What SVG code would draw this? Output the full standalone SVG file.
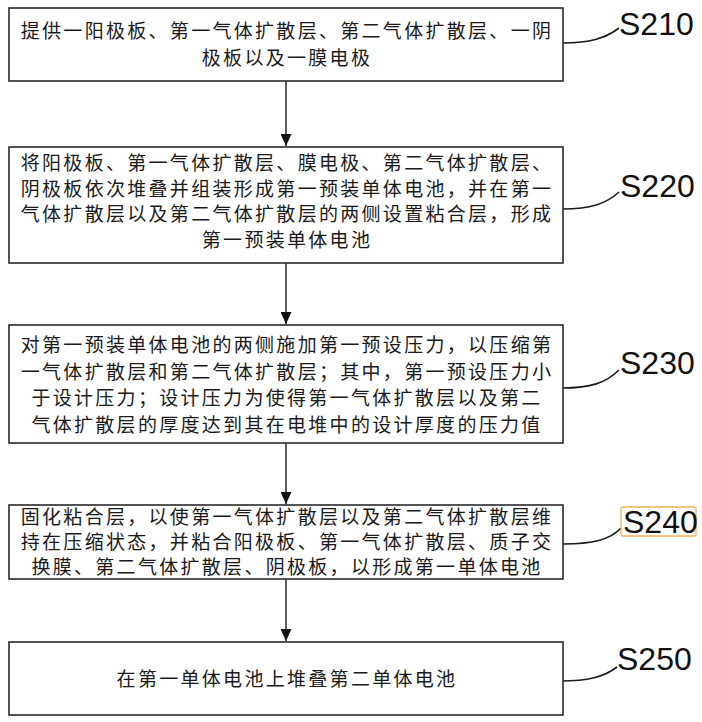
<svg xmlns="http://www.w3.org/2000/svg" width="702" height="722" viewBox="0 0 702 722">
<style>
.box{fill:#fff;stroke:#2a2a2a;stroke-width:1.6}
.t{font-family:"Noto Sans CJK SC","Noto Sans CJK JP",sans-serif;font-size:19px;letter-spacing:2.3px;fill:#1a1a1a;text-anchor:middle}
.lbl{font-family:"Liberation Sans",Arial,sans-serif;font-size:32px;fill:#111}
.lead{fill:none;stroke:#1a1a1a;stroke-width:1.6}
.conn{stroke:#1a1a1a;stroke-width:1.4;fill:none}
</style>
<defs>
<marker id="ah" markerWidth="12" markerHeight="11" refX="12" refY="5.5" orient="auto" markerUnits="userSpaceOnUse" viewBox="0 0 12 11">
<path d="M0,0 L12,5.5 L0,11 Z" fill="#111"/>
</marker>
</defs>
<rect width="702" height="722" fill="#fff"/>
<g id="connectors">
<line class="conn" x1="286" y1="81" x2="286" y2="146" marker-end="url(#ah)"/>
<line class="conn" x1="286" y1="263" x2="286" y2="324" marker-end="url(#ah)"/>
<line class="conn" x1="286" y1="443" x2="286" y2="504" marker-end="url(#ah)"/>
<line class="conn" x1="286" y1="579" x2="286" y2="641" marker-end="url(#ah)"/>
</g>
<g id="leaders">
<path class="lead" d="M563,43 C590,43 606,38 619,28"/>
<path class="lead" d="M563,209 C590,209 606,204 619,192"/>
<path class="lead" d="M563,388 C590,388 606,383 619,370"/>
<path class="lead" d="M563,544 C592,544 610,540 621,528"/>
<path class="lead" d="M560,681 C588,681 604,677 617,667"/>
</g>
<g id="S210">
<rect class="box" x="9" y="8" width="554" height="73"/>
<text class="t" x="287" y="38">提供一阳极板、第一气体扩散层、第二气体扩散层、一阴</text>
<text class="t" x="287" y="65">极板以及一膜电极</text>
<text class="lbl" x="619" y="35">S210</text>
</g>
<g id="S220">
<rect class="box" x="9" y="147" width="554" height="116"/>
<text class="t" x="287" y="170">将阳极板、第一气体扩散层、膜电极、第二气体扩散层、</text>
<text class="t" x="287" y="196">阴极板依次堆叠并组装形成第一预装单体电池，并在第一</text>
<text class="t" x="287" y="221">气体扩散层以及第二气体扩散层的两侧设置粘合层，形成</text>
<text class="t" x="287" y="247">第一预装单体电池</text>
<text class="lbl" x="620" y="197">S220</text>
</g>
<g id="S230">
<rect class="box" x="9" y="325" width="554" height="118"/>
<text class="t" x="287" y="352">对第一预装单体电池的两侧施加第一预设压力，以压缩第</text>
<text class="t" x="287" y="379">一气体扩散层和第二气体扩散层；其中，第一预设压力小</text>
<text class="t" x="287" y="405">于设计压力；设计压力为使得第一气体扩散层以及第二</text>
<text class="t" x="287" y="432">气体扩散层的厚度达到其在电堆中的设计厚度的压力值</text>
<text class="lbl" x="620" y="374">S230</text>
</g>
<g id="S240">
<rect class="box" x="9" y="505" width="554" height="74"/>
<text class="t" x="287" y="524">固化粘合层，以使第一气体扩散层以及第二气体扩散层维</text>
<text class="t" x="287" y="549">持在压缩状态，并粘合阳极板、第一气体扩散层、质子交</text>
<text class="t" x="287" y="574">换膜、第二气体扩散层、阴极板，以形成第一单体电池</text>
<rect x="621" y="507" width="75" height="29" rx="2" fill="none" stroke="#F2B352" stroke-width="1.3"/>
<text class="lbl" x="623" y="533">S240</text>
</g>
<g id="S250">
<rect class="box" x="9" y="642" width="554" height="73"/>
<text class="t" x="287" y="686">在第一单体电池上堆叠第二单体电池</text>
<text class="lbl" x="617" y="670">S250</text>
</g>
</svg>
